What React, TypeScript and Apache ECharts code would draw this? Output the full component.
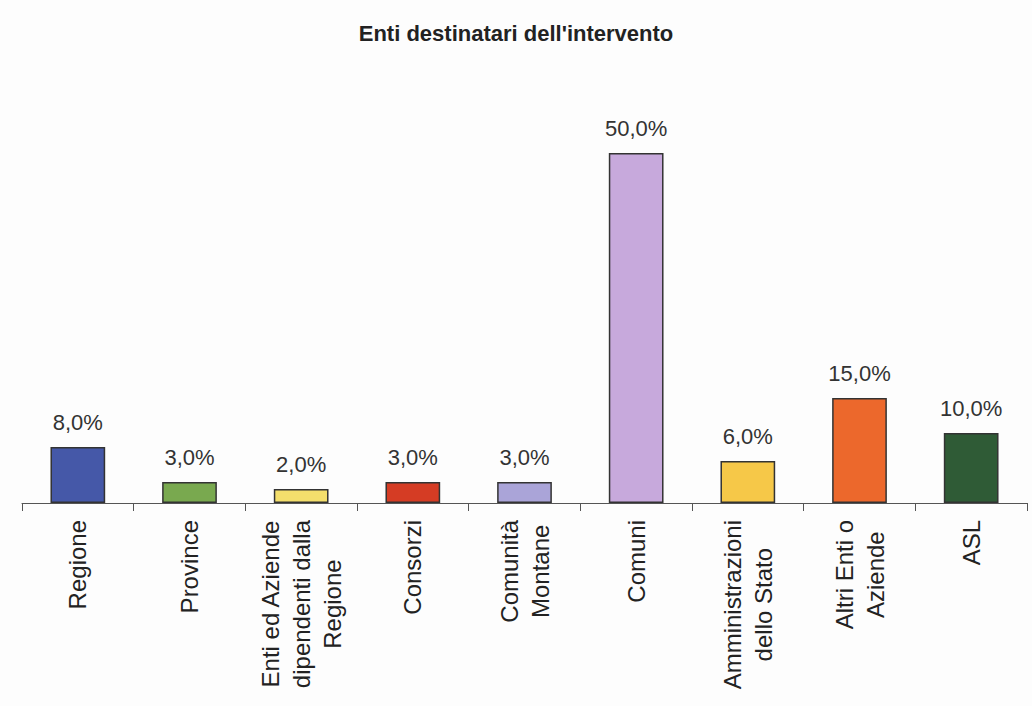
import React, { useEffect, useRef } from "react";
import * as echarts from "echarts";

const title = "Enti destinatari dell'intervento";
const categories = [
  "Regione",
  "Province",
  "Enti ed Aziende\ndipendenti dalla\nRegione",
  "Consorzi",
  "Comunità\nMontane",
  "Comuni",
  "Amministrazioni\ndello Stato",
  "Altri Enti o\nAziende",
  "ASL",
];
const values = [8, 3, 2, 3, 3, 50, 6, 15, 10];
const colors = [
  "#4558a8",
  "#79a94f",
  "#f4df6c",
  "#d53c24",
  "#aaa4d8",
  "#c7a9dc",
  "#f6c848",
  "#ec682c",
  "#2f5b36",
];

const FONT = "'Liberation Sans', Arial, sans-serif";

export default function App() {
  const ref = useRef<HTMLDivElement>(null);
  useEffect(() => {
    document.body.style.margin = "0";
    const chart = echarts.init(ref.current!, null, { renderer: "svg" });
    chart.setOption({
      animation: false,
      backgroundColor: "#fdfdfd",
      title: {
        text: title,
        left: "center",
        top: 17,
        textStyle: { fontFamily: FONT, fontSize: 22, fontWeight: "bold", color: "#222" },
      },
      grid: { left: 22, right: 5, top: 153, bottom: 203, containLabel: false },
      xAxis: {
        type: "category",
        data: categories,
        axisLine: { lineStyle: { color: "#555", width: 1 } },
        axisTick: { show: true, length: 8, lineStyle: { color: "#555" } },
        axisLabel: {
          rotate: 90,
          margin: 17,
          interval: 0,
          formatter: (v: string) =>
            v
              .split("\n")
              .map((l) => `{c|${l}}`)
              .join("\n"),
          rich: {
            c: {
              align: "center",
              fontFamily: FONT,
              fontSize: 24,
              lineHeight: 31,
              color: "#222",
            },
          },
        },
      },
      yAxis: {
        type: "value",
        min: 0,
        max: 50,
        show: false,
      },
      series: [
        {
          type: "bar",
          barWidth: "49%",
          data: values.map((v, i) => ({
            value: v,
            itemStyle: { color: colors[i], borderColor: "#333", borderWidth: 1.5 },
          })),
          label: {
            show: true,
            position: "top",
            distance: 14,
            fontFamily: FONT,
            fontSize: 22,
            color: "#333",
            formatter: (p: any) => p.value.toFixed(1).replace(".", ",") + "%",
          },
        },
      ],
    });
    return () => chart.dispose();
  }, []);
  return <div ref={ref} style={{ width: 1032, height: 706 }} />;
}
